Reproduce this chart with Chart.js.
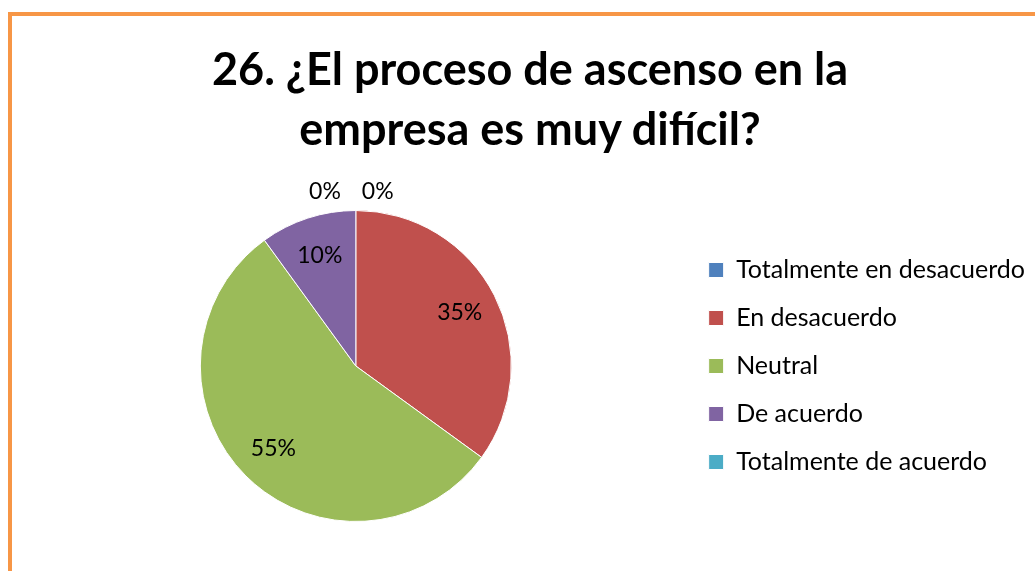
<!DOCTYPE html>
<html>
<head>
<meta charset="utf-8">
<script src="https://cdn.jsdelivr.net/npm/chart.js@4.4.1/dist/chart.umd.min.js"></script>
<style>
  html, body { margin: 0; padding: 0; background: #fff; }
  #wrap { position: relative; width: 1035px; height: 571px; overflow: hidden; }
  #frame {
    position: absolute; left: 8px; top: 12px; width: 1100px; height: 600px;
    border-top: 4px solid #F79646; border-left: 4px solid #F79646;
  }
  #title {
    position: absolute; left: 30px; width: 1000px; top: 38px;
    text-align: center; font-family: Lato, Calibri, sans-serif;
    font-weight: bold; font-size: 45px; line-height: 60px; color: #000;
  }
  canvas { position: absolute; left: 0; top: 0; }
</style>
</head>
<body>
<div id="wrap">
  <div id="frame"></div>
  <canvas id="pie" width="1035" height="571"></canvas>
  <div id="title"></div>
</div>
<script>
// ===================== DATOS ===================== //
const titleLines = ['26. ¿El proceso de ascenso en la', 'empresa es muy difícil?'];
const categories = ['Totalmente en desacuerdo', 'En desacuerdo', 'Neutral', 'De acuerdo', 'Totalmente de acuerdo'];
const percents = [0, 35, 55, 10, 0];
const sliceColors = ['#4F81BD', '#C0504D', '#9BBB59', '#8064A2', '#4BACC6'];

const FONT = 'Lato, Calibri, "Open Sans", sans-serif';

document.getElementById('title').innerHTML = titleLines.join('<br>');

// Etiquetas de porcentaje sobre cada porción
const pctLabels = {
  id: 'pctLabels',
  afterDatasetsDraw(chart) {
    const ctx = chart.ctx;
    const arcs = chart.getDatasetMeta(0).data;
    ctx.save();
    ctx.font = '23px ' + FONT;
    ctx.fillStyle = '#000';
    ctx.textAlign = 'center';
    ctx.textBaseline = 'middle';
    arcs.forEach((arc, i) => {
      const v = percents[i];
      const txt = v + '%';
      const { x, y, outerRadius, startAngle, endAngle } = arc.getProps(['x', 'y', 'outerRadius', 'startAngle', 'endAngle'], true);
      if (v === 0) {
        // porciones vacías: etiqueta por encima del borde
        const w = ctx.measureText(txt).width;
        const side = i === 0 ? 1 : -1;
        const gap = i === 0 ? 6 : 15;
        ctx.fillText(txt, x + side * (w / 2 + gap), y - outerRadius - 19);
      } else {
        const mid = (startAngle + endAngle) / 2;
        const r = outerRadius * 0.75;
        ctx.fillText(txt, x + Math.cos(mid) * r, y + Math.sin(mid) * r);
      }
    });
    ctx.restore();
  }
};

// ===================== GRÁFICO ===================== //
const chart = new Chart(document.getElementById('pie').getContext('2d'), {
  type: 'pie',
  data: {
    labels: categories,
    datasets: [{
      data: percents,
      backgroundColor: sliceColors,
      borderColor: '#ffffff',
      borderWidth: 1
    }]
  },
  options: {
    responsive: false,
    animation: false,
    layout: { padding: { left: 26, right: 0, top: 210, bottom: 49 } },
    plugins: {
      title: { display: false },
      legend: {
        position: 'right',
        labels: {
          color: '#000',
          font: { family: FONT, size: 25 },
          boxWidth: 15,
          boxHeight: 15,
          padding: 23
        }
      },
      tooltip: { enabled: false }
    }
  },
  plugins: [pctLabels]
});
</script>
</body>
</html>
